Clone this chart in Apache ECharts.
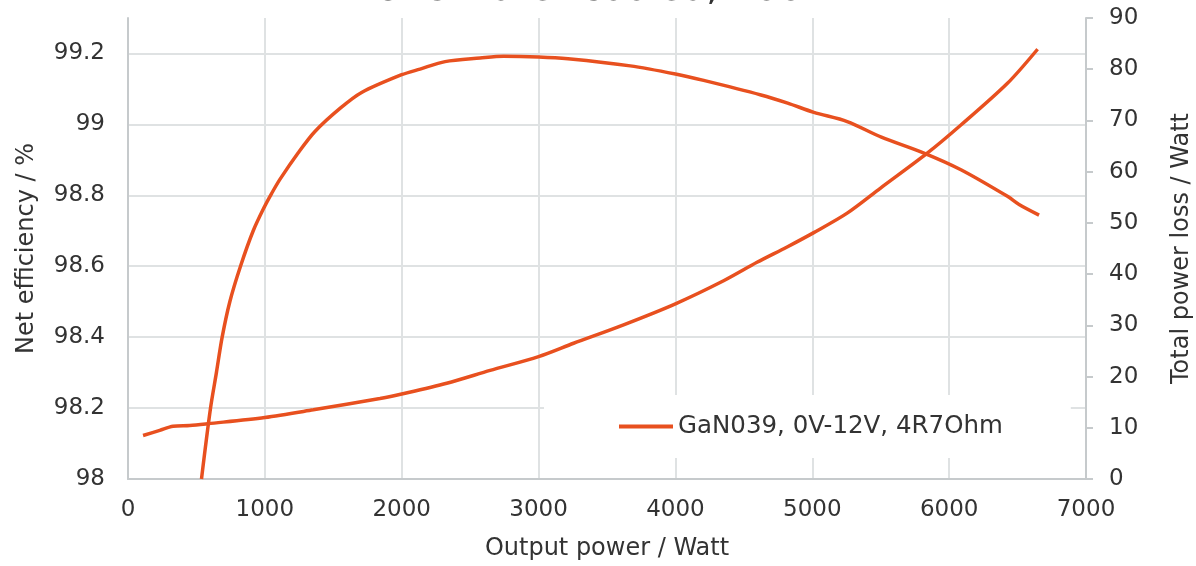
<!DOCTYPE html>
<html>
<head>
<meta charset="utf-8">
<script src="https://cdn.jsdelivr.net/npm/echarts@6/dist/echarts.min.js"></script>
<style>
  html, body { margin: 0; padding: 0; background: #fff; }
  #chart { width: 1196px; height: 566px; }
</style>
</head>
<body>
<div id="chart"></div>
<script>
// 效率曲线 (左轴, %)
const effPower = [537, 603, 646, 688, 744, 822, 915, 1000, 1049, 1110, 1244, 1366, 1549, 1707, 2000, 2134, 2317, 2573, 2744, 3000, 3215, 3670, 4000, 4206, 4625, 4820, 5011, 5255, 5505, 5816, 6086, 6426, 6511, 6657];
const effValues = [98.0, 98.2, 98.3, 98.4, 98.5, 98.6, 98.7, 98.77, 98.805, 98.845, 98.92, 98.98, 99.045, 99.09, 99.14, 99.156, 99.177, 99.187, 99.192, 99.19, 99.185, 99.165, 99.142, 99.124, 99.083, 99.06, 99.034, 99.008, 98.964, 98.919, 98.872, 98.797, 98.774, 98.744];

// 总损耗曲线 (右轴, W)
const lossPower = [110, 232, 329, 451, 585, 1000, 1354, 1841, 2000, 2329, 2646, 3000, 3256, 3621, 4000, 4352, 4596, 4816, 5011, 5255, 5499, 5840, 6086, 6426, 6646];
const lossValues = [8.5, 9.5, 10.3, 10.45, 10.8, 12.0, 13.5, 15.7, 16.6, 18.7, 21.2, 23.9, 26.5, 30.1, 34.2, 38.7, 42.3, 45.3, 48.1, 51.9, 56.8, 63.6, 69.1, 77.25, 83.9];

const seriesName = 'GaN039, 0V-12V, 4R7Ohm';
const titleText = '25°C water cooled, 100kHz';

const color = '#e8501f';
const textColor = '#333';
const font = 'DejaVu Sans';

const chart = echarts.init(document.getElementById('chart'));

const option = {
  animation: false,
  textStyle: { fontFamily: font },
  title: {
    text: titleText,
    left: 609,
    top: -34,
    textAlign: 'center',
    textStyle: { fontFamily: font, fontSize: 38, fontWeight: 'normal', color: textColor }
  },
  legend: {
    data: [{ name: seriesName, icon: 'rect' }],
    left: 544,
    top: 395,
    padding: [19, 68, 19, 75],
    backgroundColor: '#fff',
    itemWidth: 54,
    itemHeight: 4,
    textStyle: { fontFamily: font, fontSize: 24.5, color: textColor }
  },
  grid: { left: 128, right: 110, top: 18, bottom: 87, outerBoundsMode: 'none' },
  xAxis: {
    type: 'value',
    min: 0,
    max: 7000,
    interval: 1000,
    name: 'Output power / Watt',
    nameLocation: 'middle',
    nameGap: 58,
    nameTextStyle: { fontFamily: font, fontSize: 24, color: textColor },
    axisLine: { show: true, lineStyle: { color: '#c6cacc', width: 2 } },
    axisTick: { show: false },
    axisLabel: { margin: 20, fontFamily: font, fontSize: 23, color: textColor, formatter: v => String(v) },
    splitLine: { show: true, lineStyle: { color: '#dfe2e3', width: 2 } }
  },
  yAxis: [
    {
      type: 'value',
      min: 98,
      max: 99.3,
      interval: 0.2,
      name: 'Net efficiency / %',
      nameLocation: 'middle',
      nameGap: 89,
      nameTextStyle: { fontFamily: font, fontSize: 24, color: textColor },
      axisLine: { show: true, lineStyle: { color: '#c6cacc', width: 2 } },
      axisTick: { show: false },
      axisLabel: { margin: 23, fontFamily: font, fontSize: 23, color: textColor, showMaxLabel: false },
      splitLine: { show: true, showMaxLine: false, lineStyle: { color: '#dfe2e3', width: 2 } }
    },
    {
      type: 'value',
      min: 0,
      max: 90,
      interval: 10,
      position: 'right',
      name: 'Total power loss / Watt',
      nameLocation: 'middle',
      nameGap: 84,
      nameTextStyle: { fontFamily: font, fontSize: 24, color: textColor },
      axisLine: { show: true, lineStyle: { color: '#c6cacc', width: 2 } },
      axisTick: { show: true, inside: false, length: 7, lineStyle: { color: '#c6cacc', width: 2 } },
      axisLabel: { margin: 23, fontFamily: font, fontSize: 23, color: textColor },
      splitLine: { show: false }
    }
  ],
  series: [
    {
      name: seriesName,
      type: 'line',
      yAxisIndex: 0,
      data: effPower.map((p, i) => [p, effValues[i]]),
      smooth: 0.3,
      symbol: 'none',
      lineStyle: { color: color, width: 3.5 },
      itemStyle: { color: color }
    },
    {
      name: seriesName,
      type: 'line',
      yAxisIndex: 1,
      data: lossPower.map((p, i) => [p, lossValues[i]]),
      smooth: 0.3,
      symbol: 'none',
      lineStyle: { color: color, width: 3.5 },
      itemStyle: { color: color }
    }
  ]
};

chart.setOption(option);
</script>
</body>
</html>
